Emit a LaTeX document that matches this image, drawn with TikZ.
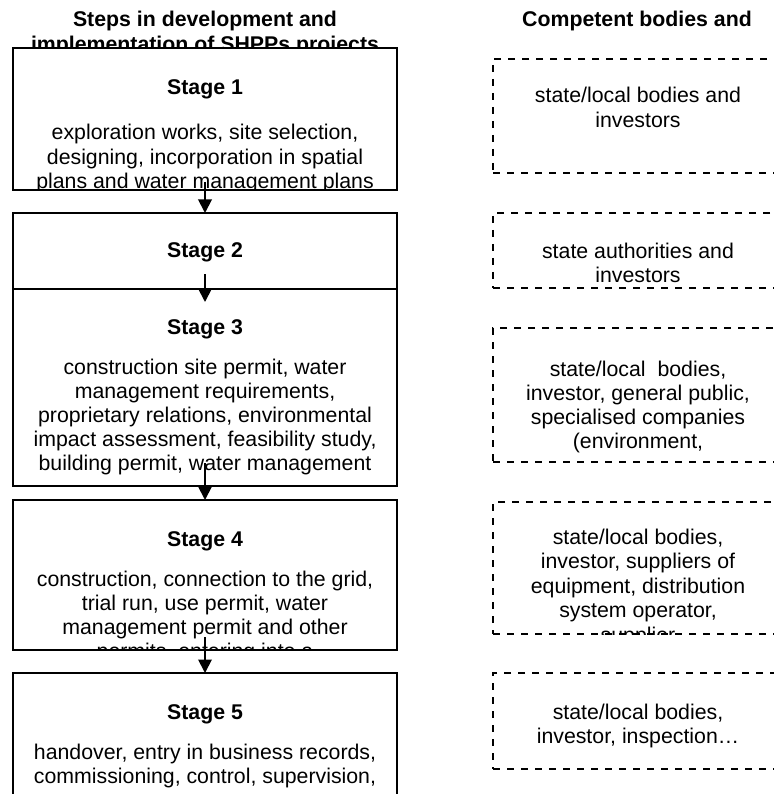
\documentclass[tikz,border=0pt]{standalone}
\usepackage{fontspec}
\setmainfont{Liberation Sans}
\usetikzlibrary{arrows.meta}
\begin{document}
\begin{tikzpicture}[x=1pt,y=-1pt,
  stagebox/.style={draw, line width=1.9pt, fill=white, rectangle, inner sep=0pt, outer sep=0pt},
  actorbox/.style={draw, line width=1.9pt, dash pattern=on 7.3pt off 6.7pt, fill=white, rectangle, inner sep=0pt, outer sep=0pt},
  txt/.style={anchor=base, inner sep=0pt, font=\fontsize{21.3}{24.5}\selectfont},
  hd/.style={anchor=base, inner sep=0pt, font=\fontsize{21.3}{24.5}\selectfont\bfseries},
  flow/.style={line width=1.9pt, -{Triangle[width=13.5pt,length=13.5pt]}}]
\useasboundingbox (0,0) rectangle (773,794);

% column headings
\node[hd] (hl1) at (205,26.7) {Steps in development and};
\node[hd] (hl2) at (205,51.2) {implementation of SHPPs projects};
\node[hd] (hr1) at (637,26.7) {Competent bodies and};

% Stage 1
\node[stagebox, minimum width=384pt, minimum height=142pt] (s1) at (205,119) {};
\begin{scope}
\clip (s1.south west) rectangle (s1.north east);
\node[hd] (s1t) at (205,95) {Stage 1};
\node[txt] (s1a) at (205,140) {exploration works, site selection,};
\node[txt] (s1b) at (205,164.5) {designing, incorporation in spatial};
\node[txt] (s1c) at (205,189) {plans and water management plans};
\end{scope}

% Stage 2
\node[stagebox, minimum width=384pt, minimum height=76pt] (s2) at (205,251) {};
\node[hd] (s2t) at (205,257) {Stage 2};

% Stage 3
\node[stagebox, minimum width=384pt, minimum height=197pt] (s3) at (205,387.5) {};
\begin{scope}
\clip (s3.south west) rectangle (s3.north east);
\node[hd] (s3t) at (205,334) {Stage 3};
\node[txt] (s3a) at (205,374) {construction site permit, water};
\node[txt] (s3b) at (205,398) {management requirements,};
\node[txt] (s3c) at (205,422) {proprietary relations, environmental};
\node[txt] (s3d) at (205,446) {impact assessment, feasibility study,};
\node[txt] (s3e) at (205,470) {building permit, water management};
\end{scope}

% Stage 4
\node[stagebox, minimum width=384pt, minimum height=150pt] (s4) at (205,575) {};
\begin{scope}
\clip (s4.south west) rectangle (s4.north east);
\node[hd] (s4t) at (205,546) {Stage 4};
\node[txt] (s4a) at (205,586) {construction, connection to the grid,};
\node[txt] (s4b) at (205,610) {trial run, use permit, water};
\node[txt] (s4c) at (205,634) {management permit and other};
\node[txt] (s4d) at (205,658) {permits, entering into a};
\end{scope}

% Stage 5
\node[stagebox, minimum width=384pt, minimum height=157pt] (s5) at (205,751.5) {};
\begin{scope}
\clip (s5.south west) rectangle (s5.north east);
\node[hd] (s5t) at (205,719) {Stage 5};
\node[txt] (s5a) at (205,759) {handover, entry in business records,};
\node[txt] (s5b) at (205,783) {commissioning, control, supervision,};
\end{scope}

% competent bodies
\node[actorbox, minimum width=290pt, minimum height=114pt] (r1) at (638,116) {};
\node[txt] (r1a) at (638,103) {state/local bodies and};
\node[txt] (r1b) at (638,127.5) {investors};

\node[actorbox, minimum width=290pt, minimum height=75pt] (r2) at (638,250.5) {};
\node[txt] (r2a) at (638,258) {state authorities and};
\node[txt] (r2b) at (638,282) {investors};

\node[actorbox, minimum width=290pt, minimum height=134pt] (r3) at (638,395) {};
\node[txt] (r3a) at (638,376) {state/local\ \ bodies,};
\node[txt] (r3b) at (638,400) {investor, general public,};
\node[txt] (r3c) at (638,424) {specialised companies};
\node[txt] (r3d) at (638,448) {(environment,};

\node[actorbox, minimum width=290pt, minimum height=132pt] (r4) at (638,568) {};
\begin{scope}
\clip (r4.south west) rectangle (r4.north east);
\node[txt] (r4a) at (638,544) {state/local bodies,};
\node[txt] (r4b) at (638,568.5) {investor, suppliers of};
\node[txt] (r4c) at (638,593) {equipment, distribution};
\node[txt] (r4d) at (638,617.5) {system operator,};
\node[txt] (r4e) at (638,642) {supplier};
\end{scope}

\node[actorbox, minimum width=290pt, minimum height=96pt] (r5) at (638,721) {};
\node[txt] (r5a) at (638,719) {state/local bodies,};
\node[txt] (r5b) at (638,743.5) {investor, inspection…};

% arrows
\coordinate (a1) at (205,182);
\coordinate (a2) at (205,274);
\coordinate (t2) at (205,302);
\coordinate (a3) at (205,463);
\coordinate (a4) at (205,637);
\draw[flow] (a1) -- (s2.north);
\draw[flow] (a2) -- (t2);
\draw[flow] (a3) -- (s4.north);
\draw[flow] (a4) -- (s5.north);
\end{tikzpicture}
\end{document}
